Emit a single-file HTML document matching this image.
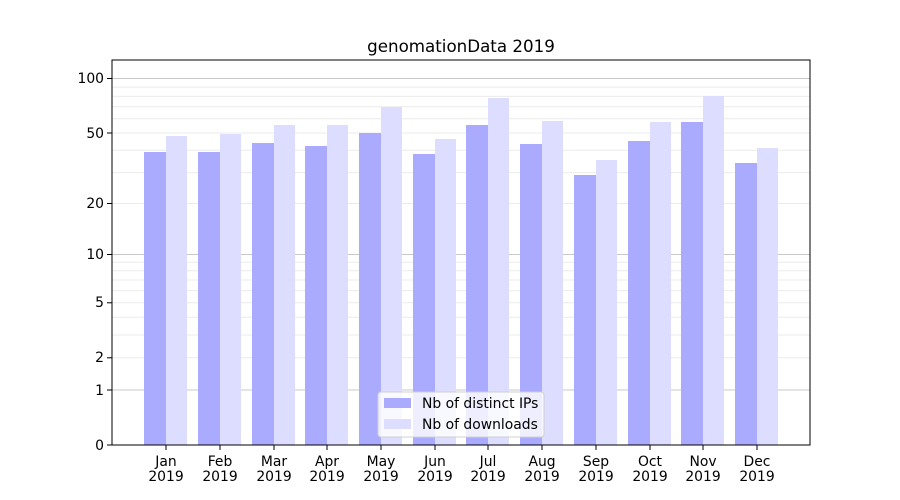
<!DOCTYPE html>
<html><head><meta charset="utf-8"><style>body{margin:0;background:#fff}svg{display:block}text{font-family:"DejaVu Sans","Liberation Sans",sans-serif;font-size:13.9px;fill:#000}</style></head><body>
<svg width="900" height="500" viewBox="0 0 900 500" xmlns="http://www.w3.org/2000/svg">
<rect width="900" height="500" fill="#fff"/>
<g stroke="#ebebeb" stroke-width="1">
<line x1="112" x2="810" y1="357.8" y2="357.8"/><line x1="112" x2="810" y1="335" y2="335"/><line x1="112" x2="810" y1="317.3" y2="317.3"/><line x1="112" x2="810" y1="302.8" y2="302.8"/><line x1="112" x2="810" y1="290.6" y2="290.6"/><line x1="112" x2="810" y1="280" y2="280"/><line x1="112" x2="810" y1="270.7" y2="270.7"/><line x1="112" x2="810" y1="262.3" y2="262.3"/>
<line x1="112" x2="810" y1="203.5" y2="203.5"/><line x1="112" x2="810" y1="172.6" y2="172.6"/><line x1="112" x2="810" y1="150.3" y2="150.3"/><line x1="112" x2="810" y1="133" y2="133"/><line x1="112" x2="810" y1="118.8" y2="118.8"/><line x1="112" x2="810" y1="106.8" y2="106.8"/><line x1="112" x2="810" y1="96.4" y2="96.4"/><line x1="112" x2="810" y1="87.1" y2="87.1"/>
</g>
<g stroke="#c8c8c8" stroke-width="1"><line x1="112" x2="810" y1="390" y2="390"/><line x1="112" x2="810" y1="254.5" y2="254.5"/><line x1="112" x2="810" y1="78.5" y2="78.5"/></g>
<g fill="#aaaaff">
<rect x="144" y="152" width="22" height="293"/><rect x="198" y="152" width="22" height="293"/><rect x="252" y="143" width="22" height="302"/><rect x="305" y="146" width="22" height="299"/><rect x="359" y="133" width="22" height="312"/><rect x="413" y="154" width="22" height="291"/><rect x="466" y="125" width="22" height="320"/><rect x="520" y="144" width="22" height="301"/><rect x="574" y="175" width="22" height="270"/><rect x="628" y="141" width="22" height="304"/><rect x="681" y="122" width="22" height="323"/><rect x="735" y="163" width="22" height="282"/>
</g>
<g fill="#ddddff">
<rect x="166" y="136" width="21" height="309"/><rect x="220" y="134" width="21" height="311"/><rect x="274" y="125" width="21" height="320"/><rect x="327" y="125" width="21" height="320"/><rect x="381" y="107" width="21" height="338"/><rect x="435" y="139" width="21" height="306"/><rect x="488" y="98" width="21" height="347"/><rect x="542" y="121" width="21" height="324"/><rect x="596" y="160" width="21" height="285"/><rect x="650" y="122" width="21" height="323"/><rect x="703" y="96" width="21" height="349"/><rect x="757" y="148" width="21" height="297"/>
</g>
<rect x="112" y="60" width="698" height="385" fill="none" stroke="#000" stroke-width="1"/>
<g stroke="#000"><line x1="107" x2="112" y1="78.5" y2="78.5"/><line x1="107" x2="112" y1="133" y2="133"/><line x1="107" x2="112" y1="203.5" y2="203.5"/><line x1="107" x2="112" y1="254.5" y2="254.5"/><line x1="107" x2="112" y1="302.8" y2="302.8"/><line x1="107" x2="112" y1="357.8" y2="357.8"/><line x1="107" x2="112" y1="390" y2="390"/><line x1="107" x2="112" y1="445" y2="445"/></g>
<g text-anchor="end"><text x="104" y="83">100</text><text x="104" y="138">50</text><text x="104" y="208">20</text><text x="104" y="259">10</text><text x="104" y="307">5</text><text x="104" y="362">2</text><text x="104" y="395">1</text><text x="104" y="450">0</text></g>
<g stroke="#000"><line x1="166" x2="166" y1="445" y2="450"/><line x1="220" x2="220" y1="445" y2="450"/><line x1="274" x2="274" y1="445" y2="450"/><line x1="327" x2="327" y1="445" y2="450"/><line x1="381" x2="381" y1="445" y2="450"/><line x1="435" x2="435" y1="445" y2="450"/><line x1="488" x2="488" y1="445" y2="450"/><line x1="542" x2="542" y1="445" y2="450"/><line x1="596" x2="596" y1="445" y2="450"/><line x1="650" x2="650" y1="445" y2="450"/><line x1="703" x2="703" y1="445" y2="450"/><line x1="757" x2="757" y1="445" y2="450"/></g>
<g text-anchor="middle">
<text x="166" y="466">Jan</text><text x="166" y="481">2019</text><text x="220" y="466">Feb</text><text x="220" y="481">2019</text><text x="274" y="466">Mar</text><text x="274" y="481">2019</text><text x="327" y="466">Apr</text><text x="327" y="481">2019</text><text x="381" y="466">May</text><text x="381" y="481">2019</text><text x="435" y="466">Jun</text><text x="435" y="481">2019</text><text x="488" y="466">Jul</text><text x="488" y="481">2019</text><text x="542" y="466">Aug</text><text x="542" y="481">2019</text><text x="596" y="466">Sep</text><text x="596" y="481">2019</text><text x="650" y="466">Oct</text><text x="650" y="481">2019</text><text x="703" y="466">Nov</text><text x="703" y="481">2019</text><text x="757" y="466">Dec</text><text x="757" y="481">2019</text>
<text x="461" y="52" style="font-size:16.7px">genomationData 2019</text>
</g>
<rect x="378" y="392" width="166" height="45" rx="3" fill="#fff" fill-opacity="0.8" stroke="#d0d0d0"/>
<rect x="384" y="398" width="27" height="10" fill="#aaaaff"/><text x="422" y="408">Nb of distinct IPs</text>
<rect x="384" y="419" width="27" height="10" fill="#ddddff"/><text x="422" y="429">Nb of downloads</text>
</svg>
</body></html>
